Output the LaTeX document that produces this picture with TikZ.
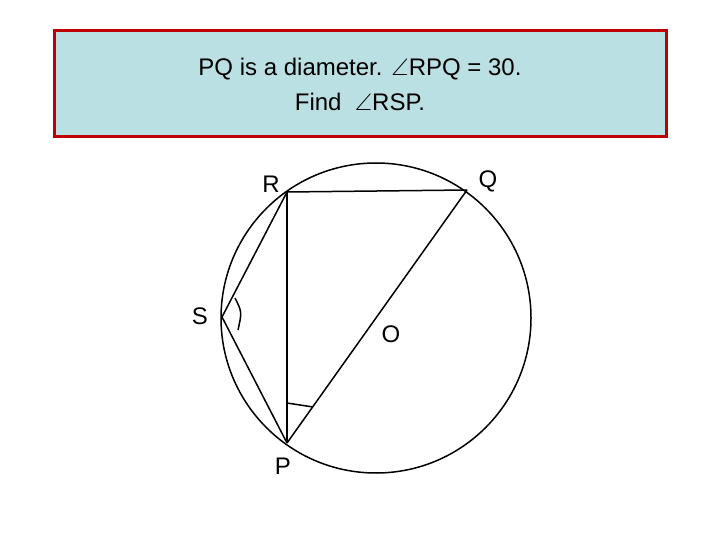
\documentclass[tikz,border=0pt]{standalone}
\usepackage{fontspec}
\setmainfont{Liberation Sans}
\usepackage{amssymb}
\begin{document}
\begin{tikzpicture}[x=1pt,y=-1pt,
  lbl/.style={font=\fontsize{24}{28}\selectfont},
  ln/.style={line width=1.5pt}]
\useasboundingbox (0,0) rectangle (720,540);
\fill[white] (0,0) rectangle (720,540);
\node[draw=red!75!black, line width=3pt, fill={rgb,255:red,187;green,224;blue,227}, minimum width=612, minimum height=106, inner sep=0, align=center, font=\fontsize{24}{35}\selectfont] (box) at (360,84) {PQ is a diameter. $\angle$RPQ = 30.\\Find \ $\angle$RSP.};
\coordinate (O) at (376,318);
\coordinate (R) at (287,192);
\coordinate (Q) at (467,190);
\coordinate (P) at (287,443);
\coordinate (S) at (222,317);
\draw[ln] (O) circle[radius=155];
\draw[ln] (R) -- (Q);
\draw[ln] (R) -- (P);
\draw[ln] (P) -- (Q);
\draw[ln] (R) -- (S) -- (P);
\draw[ln] (287,403) -- (313,407);
\draw[ln] (235,298) .. controls (242,312) .. (238,330);
\node[lbl] (lR) at (271,184) {R};
\node[lbl] (lQ) at (488,181) {Q};
\node[lbl] (lS) at (200,316) {S};
\node[lbl] (lO) at (391,334) {O};
\node[lbl] (lP) at (283,466) {P};
\end{tikzpicture}
\end{document}
